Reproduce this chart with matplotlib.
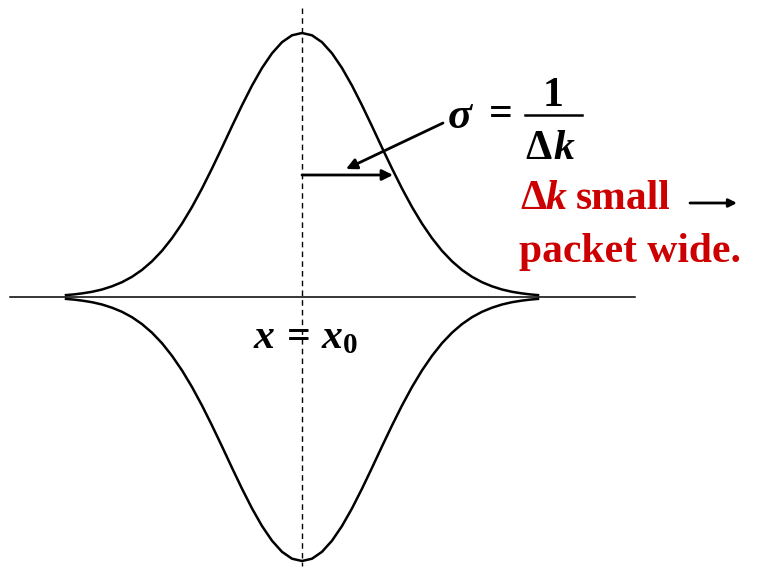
import matplotlib.pyplot as plt
import numpy as np

plt.rcParams['font.family'] = ['Liberation Serif', 'DejaVu Serif']
plt.rcParams['mathtext.fontset'] = 'custom'
plt.rcParams['mathtext.rm'] = 'Liberation Serif:bold'
plt.rcParams['mathtext.it'] = 'Liberation Serif:italic:bold'
plt.rcParams['mathtext.bf'] = 'Liberation Serif:bold'

# envelope: horizontal offset from x0 (px) and height (px)
offsets = [0, 10, 20, 30, 40, 50, 60, 70, 80, 90, 100, 110, 120, 130,
           140, 150, 160, 170, 180, 190, 200, 210, 220, 228, 236]
heights = [264, 261.7, 254.8, 243.7, 229, 211.4, 191.7, 170.8, 149.4, 128.5,
           108.5, 90.0, 73.4, 58.8, 46.2, 35.7, 27.1, 20.2, 14.8, 10.7,
           7.5, 5.2, 3.6, 2.6, 1.9]

x0 = 302        # packet centre
base = 297      # axis line
sigma_x = 393   # end of sigma arrow

xs = np.concatenate([x0 - np.array(offsets[::-1]), x0 + np.array(offsets[1:])])
hs = np.concatenate([np.array(heights[::-1]), np.array(heights[1:])])

fig = plt.figure(figsize=(7.58, 5.78), dpi=100)
ax = fig.add_axes([0, 0, 1, 1])
ax.set_xlim(0, 758)
ax.set_ylim(578, 0)
ax.axis('off')

# upper and lower envelope
ax.plot(xs, base - hs, color='black', lw=1.8, solid_joinstyle='round')
ax.plot(xs, base + hs, color='black', lw=1.8, solid_joinstyle='round')

# axis and centre line
ax.plot([10, 635], [base, base], color='black', lw=1.1)
ax.plot([x0, x0], [8, 566], color='black', lw=1.0, ls=(0, (4, 3)))

# sigma arrows
ax.annotate('', xy=(sigma_x, 175), xytext=(x0, 175),
            arrowprops=dict(arrowstyle='-|>', color='black', lw=2,
                            mutation_scale=16, shrinkA=0, shrinkB=0))
ax.annotate('', xy=(346, 169), xytext=(443, 123),
            arrowprops=dict(arrowstyle='-|>', color='black', lw=2,
                            mutation_scale=16, shrinkA=0, shrinkB=0))

# sigma = 1 / dk
ax.text(461, 117, r'$\sigma$', ha='center', va='center',
        fontsize=32, color='black')
bold = dict(fontsize=30, fontweight='bold', color='black')
ax.text(501, 115, '=', ha='center', va='center', **bold)
ax.text(553, 96, '1', ha='center', va='center', **bold)
ax.plot([525, 582], [115, 115], color='black', lw=1.8)
ax.text(538, 149, 'Δ', ha='center', va='center', **bold)
ax.text(564, 149, 'k', ha='center', va='center', fontstyle='italic', **bold)

# red remark
red = dict(fontsize=30, fontweight='bold', color='#cc0000')
ax.text(520, 209, 'Δ', ha='left', va='baseline', **red)
ax.text(545, 209, 'k', ha='left', va='baseline', fontstyle='italic', **red)
ax.text(576, 209, 'small', ha='left', va='baseline', **red)
ax.annotate('', xy=(737, 203), xytext=(690, 203),
            arrowprops=dict(arrowstyle='-|>', color='black', lw=2,
                            mutation_scale=12, shrinkA=0, shrinkB=0))
ax.text(519, 262, 'packet wide.', ha='left', va='baseline', **red)

# centre label
ax.text(306, 338, r'$x\,=\,x_0$', ha='center', va='center', fontsize=30,
        color='black')

plt.savefig('out.png', dpi=100)
